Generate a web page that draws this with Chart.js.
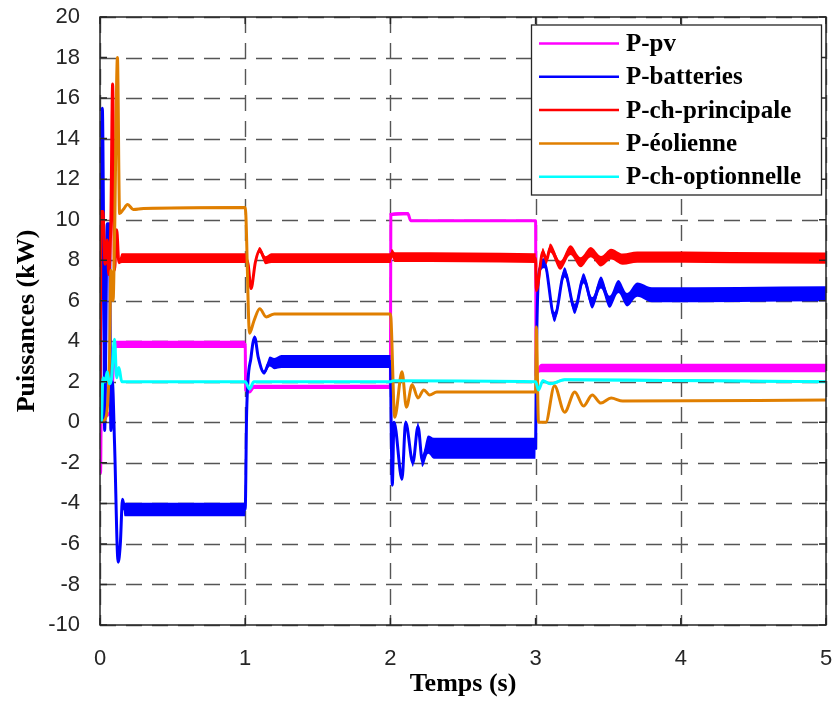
<!DOCTYPE html>
<html>
<head>
<meta charset="utf-8">
<script src="https://cdn.jsdelivr.net/npm/chart.js@4"></script>
<style>
  html, body { margin: 0; padding: 0; background: #fff; }
  #wrap { width: 834px; height: 707px; }
</style>
</head>
<body>
<div id="wrap"><canvas id="chart" width="834" height="707"></canvas></div>
<script>
// Each point: [time (s), power (kW), ripple half-width (kW)]
const pvPoints = [
  [0, 0, 0], [0.004, -2.5, 0], [0.008, 0, 0], [0.03, 0.3, 0], [0.07, 0.5, 0], [0.1, 3.5, 0],
  [0.11, 3.85, 0.18], [1.0, 3.85, 0.18], [1.003, 1.6, 0], [1.03, 1.5, 0], [1.06, 1.75, 0.1],
  [2.0, 1.75, 0.1], [2.003, 10.25, 0.08], [2.12, 10.3, 0.08], [2.14, 9.95, 0], [3.0, 9.95, 0],
  [3.003, 2.3, 0], [3.02, 2.6, 0.15], [3.05, 2.68, 0.21], [5, 2.68, 0.21]
];
const batteryPoints = [
  [0, 0, 0], [0.008, 8, 0], [0.016, 15.5, 0], [0.025, 9, 0], [0.032, -0.4, 0], [0.05, 9.8, 0],
  [0.065, 9.8, 0], [0.075, -0.4, 0], [0.085, 2, 0], [0.1, -1, 0], [0.125, -6.9, 0], [0.14, -6, 0],
  [0.155, -3.8, 0], [0.17, -4.3, 0.33], [1.0, -4.3, 0.33], [1.01, 0.5, 0], [1.04, 3.2, 0],
  [1.065, 4.2, 0.1], [1.09, 3.2, 0.1], [1.13, 2.45, 0.1], [1.17, 3.0, 0.25], [1.2, 2.9, 0.28],
  [1.25, 3.0, 0.32], [2.0, 3.0, 0.32], [2.005, 0, 0], [2.013, -3.1, 0], [2.025, 0, 0],
  [2.08, -2.8, 0.1], [2.105, 0, 0.1], [2.155, -2.0, 0.2], [2.19, -0.2, 0.2], [2.22, -1.9, 0.3],
  [2.26, -1.1, 0.45], [2.3, -1.28, 0.52], [3.0, -1.28, 0.52], [3.005, 3, 0], [3.03, 7.6, 0.25],
  [3.06, 7.85, 0.25], [3.13, 5.2, 0.25], [3.2, 7.4, 0.25], [3.27, 5.6, 0.25], [3.33, 7.1, 0.25],
  [3.39, 5.9, 0.28], [3.45, 6.9, 0.3], [3.51, 5.95, 0.3], [3.57, 6.7, 0.32], [3.63, 6.05, 0.33],
  [3.7, 6.55, 0.35], [3.8, 6.3, 0.37], [5, 6.35, 0.37]
];
const mainLoadPoints = [
  [0, 0, 0], [0.008, 10.4, 0], [0.02, 10.4, 0], [0.035, 7.8, 0], [0.05, 9.0, 0], [0.06, 7.3, 0],
  [0.075, 10, 0], [0.087, 16.7, 0], [0.1, 7.5, 0], [0.115, 9.5, 0], [0.13, 7.9, 0.1],
  [0.15, 8.1, 0.24], [1.0, 8.1, 0.24], [1.02, 7.8, 0.1], [1.04, 6.6, 0], [1.07, 7.9, 0.1],
  [1.1, 8.5, 0.15], [1.14, 8.0, 0.2], [1.18, 8.1, 0.24], [2.0, 8.1, 0.24], [2.01, 8.35, 0.2],
  [2.03, 8.15, 0.24], [3.0, 8.1, 0.24], [3.005, 6.5, 0], [3.05, 8.4, 0.2], [3.075, 8.0, 0.2],
  [3.1, 8.6, 0.22], [3.17, 7.75, 0.22], [3.24, 8.5, 0.24], [3.31, 7.9, 0.25], [3.38, 8.4, 0.25],
  [3.45, 7.95, 0.26], [3.52, 8.3, 0.27], [3.6, 8.05, 0.28], [3.7, 8.15, 0.28], [5, 8.1, 0.28]
];
const windPoints = [
  [0, 0, 0], [0.03, 0.1, 0], [0.065, 3, 0], [0.075, 7.5, 0], [0.09, 6, 0], [0.1, 9, 0],
  [0.12, 18, 0], [0.135, 10.3, 0], [0.16, 10.5, 0], [0.19, 10.75, 0], [0.23, 10.5, 0.05],
  [0.3, 10.55, 0.05], [1.0, 10.6, 0.05], [1.03, 4.4, 0], [1.06, 5.0, 0], [1.1, 5.6, 0.05],
  [1.145, 5.2, 0.05], [1.2, 5.35, 0.05], [2.0, 5.35, 0.05], [2.03, 0.25, 0], [2.08, 2.5, 0],
  [2.11, 0.75, 0], [2.15, 1.85, 0], [2.19, 1.2, 0], [2.23, 1.6, 0], [2.27, 1.35, 0],
  [2.32, 1.5, 0.04], [3.0, 1.5, 0.04], [3.005, 4.7, 0], [3.02, 0.0, 0], [3.07, 0.0, 0],
  [3.13, 1.8, 0], [3.2, 0.5, 0], [3.27, 1.5, 0], [3.33, 0.8, 0], [3.39, 1.35, 0],
  [3.45, 0.95, 0], [3.52, 1.2, 0], [3.6, 1.05, 0.04], [5, 1.1, 0.04]
];
const optLoadPoints = [
  [0, 0, 0], [0.01, 0.1, 0], [0.02, 2.2, 0], [0.035, 2.0, 0], [0.05, 2.5, 0], [0.065, 1.9, 0],
  [0.08, 2.2, 0], [0.1, 4.1, 0], [0.115, 2.2, 0], [0.13, 2.7, 0], [0.15, 2.0, 0.04],
  [1.0, 2.0, 0.04], [1.03, 1.65, 0], [1.06, 2.0, 0.04], [2.0, 2.0, 0.04], [2.02, 2.05, 0.04],
  [3.0, 2.0, 0.04], [3.02, 1.6, 0], [3.05, 2.05, 0.06], [3.1, 1.9, 0.06], [3.2, 2.1, 0.06],
  [5, 2.0, 0.06]
];

const seriesNames = ["P-pv", "P-batteries", "P-ch-principale", "P-\u00e9olienne", "P-ch-optionnelle"];
const seriesData = [pvPoints, batteryPoints, mainLoadPoints, windPoints, optLoadPoints];
const seriesColors = ["#ff00ff", "#0000ff", "#ff0000", "#e07f00", "#00ffff"];

const xTicks = [0, 1, 2, 3, 4, 5];
const yTicks = [-10, -8, -6, -4, -2, 0, 2, 4, 6, 8, 10, 12, 14, 16, 18, 20];

const axisColor = "#262626";

// each series = ripple band (upper + filled lower) + center line
function buildSeries(name, color, pts, order) {
  const common = { pointRadius: 0, cubicInterpolationMode: "monotone", order: order };
  const upper = Object.assign({
    label: "", data: pts.map(p => ({ x: p[0], y: p[1] + p[2] })),
    borderColor: "rgba(0,0,0,0)", borderWidth: 1, fill: false
  }, common);
  const lower = Object.assign({
    label: "", data: pts.map(p => ({ x: p[0], y: p[1] - p[2] })),
    borderColor: "rgba(0,0,0,0)", borderWidth: 1, backgroundColor: color, fill: "-1"
  }, common);
  const line = Object.assign({
    label: name, data: pts.map(p => ({ x: p[0], y: p[1] })),
    borderColor: color, borderWidth: 3, fill: false
  }, common);
  return [upper, lower, line];
}

const datasets = [];
for (let i = 0; i < seriesNames.length; i++) {
  datasets.push(...buildSeries(seriesNames[i], seriesColors[i], seriesData[i], seriesNames.length - i));
}

// dashed grid, drawn under the data
const gridPlugin = {
  id: "dashGrid",
  beforeDatasetsDraw(chart) {
    const { ctx, chartArea: a, scales } = chart;
    ctx.save();
    ctx.strokeStyle = "#555";
    ctx.lineWidth = 1.4;
    ctx.setLineDash([16, 10]);
    ctx.beginPath();
    xTicks.forEach(v => {
      const x = Math.round(scales.x.getPixelForValue(v)) + 0.5;
      ctx.moveTo(x, a.top); ctx.lineTo(x, a.bottom);
    });
    yTicks.forEach(v => {
      const y = Math.round(scales.y.getPixelForValue(v)) + 0.5;
      ctx.moveTo(a.left, y); ctx.lineTo(a.right, y);
    });
    ctx.stroke();
    ctx.restore();
  }
};

// box around the plot with inward tick marks, like the MATLAB axes
const boxPlugin = {
  id: "box",
  afterDatasetsDraw(chart) {
    const { ctx, chartArea: a, scales } = chart;
    const tick = 7;
    ctx.save();
    ctx.strokeStyle = axisColor;
    ctx.lineWidth = 1.5;
    ctx.strokeRect(a.left, a.top, a.right - a.left, a.bottom - a.top);
    ctx.beginPath();
    xTicks.forEach(v => {
      const x = scales.x.getPixelForValue(v);
      ctx.moveTo(x, a.bottom); ctx.lineTo(x, a.bottom - tick);
      ctx.moveTo(x, a.top); ctx.lineTo(x, a.top + tick);
    });
    yTicks.forEach(v => {
      const y = scales.y.getPixelForValue(v);
      ctx.moveTo(a.left, y); ctx.lineTo(a.left + tick, y);
      ctx.moveTo(a.right, y); ctx.lineTo(a.right - tick, y);
    });
    ctx.stroke();
    ctx.restore();
  }
};

// legend box in the upper right corner
const legendPlugin = {
  id: "legendBox",
  afterDraw(chart) {
    const ctx = chart.ctx;
    const left = 531.5, top = 25, width = 290, height = 170;
    ctx.save();
    ctx.fillStyle = "#fff";
    ctx.fillRect(left, top, width, height);
    ctx.strokeStyle = axisColor;
    ctx.lineWidth = 1.3;
    ctx.strokeRect(left, top, width, height);
    ctx.font = "bold 25px 'Liberation Serif', 'Times New Roman', serif";
    ctx.textBaseline = "middle";
    ctx.textAlign = "left";
    seriesNames.forEach((name, i) => {
      const y = top + 18.5 + i * 33.3;
      ctx.strokeStyle = seriesColors[i];
      ctx.lineWidth = 2.5;
      ctx.beginPath();
      ctx.moveTo(539, y); ctx.lineTo(619, y);
      ctx.stroke();
      ctx.fillStyle = "#000";
      ctx.fillText(name, 626, y + 1);
    });
    ctx.restore();
  }
};

const tickFont = { family: "'Liberation Sans', Arial, sans-serif", size: 22 };
const titleFont = { family: "'Liberation Serif', 'Times New Roman', serif", size: 26, weight: "bold" };

new Chart(document.getElementById("chart"), {
  type: "line",
  data: { datasets: datasets },
  options: {
    responsive: false,
    animation: false,
    layout: { padding: { top: 17, right: 8, left: 0, bottom: 0 } },
    plugins: {
      legend: { display: false },
      tooltip: { enabled: false },
      filler: { propagate: false }
    },
    scales: {
      x: {
        type: "linear", min: 0, max: 5,
        afterBuildTicks: s => { s.ticks = xTicks.map(v => ({ value: v })); },
        afterFit: s => { s.height = 82; s.paddingLeft = 0; s.paddingRight = 0; },
        grid: { display: false },
        border: { display: false },
        ticks: { font: tickFont, color: axisColor, padding: 13, maxRotation: 0 },
        title: { display: true, text: "Temps (s)", font: titleFont, color: "#000", padding: { top: 0, bottom: 7 } }
      },
      y: {
        type: "linear", min: -10, max: 20,
        afterBuildTicks: s => { s.ticks = yTicks.map(v => ({ value: v })); },
        afterFit: s => { s.width = 100; s.paddingTop = 0; s.paddingBottom = 0; },
        grid: { display: false },
        border: { display: false },
        ticks: { font: tickFont, color: axisColor, padding: 12 },
        title: { display: true, text: "Puissances (kW)", font: titleFont, color: "#000", padding: { top: 12, bottom: 0 } }
      }
    }
  },
  plugins: [gridPlugin, boxPlugin, legendPlugin]
});
</script>
</body>
</html>
